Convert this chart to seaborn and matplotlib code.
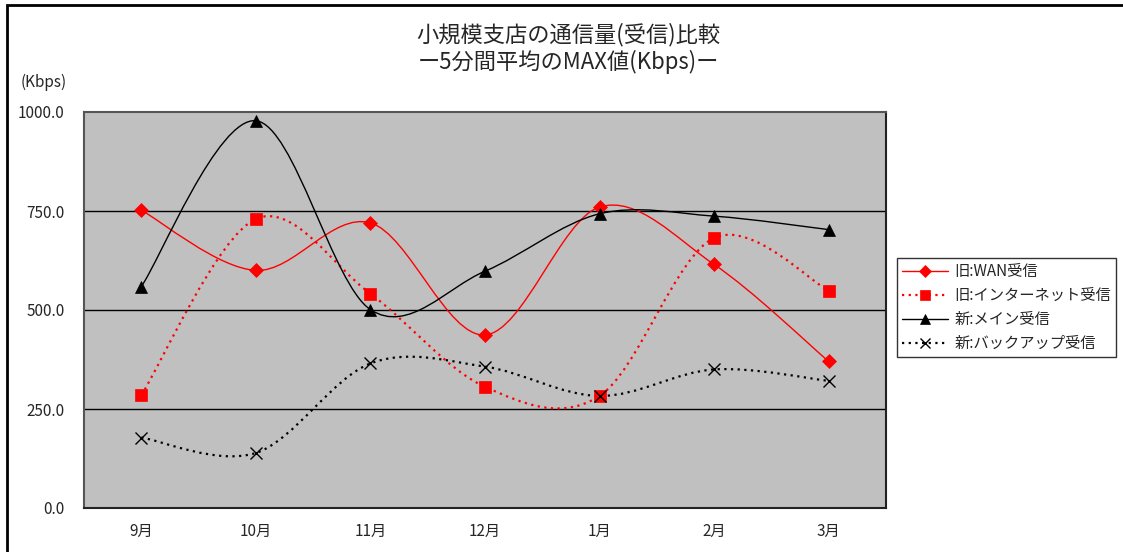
import numpy as np
import pandas as pd
import matplotlib
matplotlib.use("Agg")
import matplotlib.pyplot as plt
import seaborn as sns
from matplotlib.path import Path
from matplotlib.patches import PathPatch, Rectangle
from matplotlib.lines import Line2D

# ---- data (Kbps, 5-minute average MAX) ----
months = ["9月", "10月", "11月", "12月", "1月", "2月", "3月"]
old_wan = [752, 600, 720, 437, 760, 615, 370]
old_internet = [285, 730, 541, 306, 283, 682, 549]
new_main = [559, 978, 501, 598, 743, 737, 703]
new_backup = [178, 139, 365, 357, 283, 350, 321]

series_names = ["旧:WAN受信", "旧:インターネット受信", "新:メイン受信", "新:バックアップ受信"]
series_values = [old_wan, old_internet, new_main, new_backup]

styles = {
    "旧:WAN受信": dict(color="#FF0000", ls="-", lw=1.0, marker="D", ms=7, mew=0.5),
    "旧:インターネット受信": dict(color="#FF0000", ls=(0, (1, 2)), lw=1.6, marker="s", ms=8, mew=0.5),
    "新:メイン受信": dict(color="#000000", ls="-", lw=1.0, marker="^", ms=9, mew=0.5),
    "新:バックアップ受信": dict(color="#000000", ls=(0, (1, 2)), lw=1.6, marker="x", ms=9, mew=1.0),
}

sns.set_style("white")
plt.rcParams["font.family"] = ["Noto Sans CJK JP", "DejaVu Sans"]

W, H = 1123, 552
fig = plt.figure(figsize=(W / 100, H / 100), dpi=100)
fig.patch.set_facecolor("white")

# outer chart-area border (top and left edges visible)
fig.add_artist(Rectangle((7 / W, -0.1), 1.2, 1.1 - 5 / H, transform=fig.transFigure,
                         fill=False, edgecolor="black", lw=2.0))

left, right, top, bottom = 84, 886, 112, 508
ax = fig.add_axes([left / W, 1 - bottom / H, (right - left) / W, (bottom - top) / H])
ax.set_facecolor("#C0C0C0")

x = np.arange(len(months))
ax.set_xlim(-0.5, len(months) - 0.5)
ax.set_ylim(0, 1000)


def smooth_path(xs, ys):
    # cubic Bezier segments through the points (Catmull-Rom style tangents)
    pts = np.column_stack([xs, ys]).astype(float)
    n = len(pts)
    verts = [pts[0]]
    codes = [Path.MOVETO]
    for i in range(n - 1):
        p0 = pts[i - 1] if i > 0 else pts[i]
        p1 = pts[i]
        p2 = pts[i + 1]
        p3 = pts[i + 2] if i + 2 < n else pts[i + 1]
        c1 = p1 + (p2 - p0) / 6.0
        c2 = p2 - (p3 - p1) / 6.0
        verts += [c1, c2, p2]
        codes += [Path.CURVE4] * 3
    return Path(verts, codes)


df = pd.DataFrame({"month": np.tile(x, len(series_names)),
                   "value": np.concatenate(series_values),
                   "series": np.repeat(series_names, len(months))})

handles = []
for name, vals in zip(series_names, series_values):
    st = styles[name]
    patch = PathPatch(smooth_path(x, vals), facecolor="none", edgecolor=st["color"],
                      lw=st["lw"], linestyle=st["ls"], zorder=3)
    ax.add_patch(patch)
    sub = df[df["series"] == name]
    sns.lineplot(data=sub, x="month", y="value", ax=ax, linestyle="", marker=st["marker"],
                 markersize=st["ms"], color=st["color"], markeredgecolor=st["color"],
                 markeredgewidth=st["mew"], zorder=4, legend=False)
    handles.append(Line2D([], [], color=st["color"], ls=st["ls"], lw=st["lw"],
                          marker=st["marker"], ms=st["ms"] * 0.85, mew=st["mew"],
                          markeredgecolor=st["color"]))

# grid lines
for v in (250, 500, 750):
    ax.axhline(v, color="black", lw=1.0, zorder=2)

ax.set_yticks([0, 250, 500, 750, 1000])
ax.set_yticklabels([f"{v:.1f}" for v in [0, 250, 500, 750, 1000]], fontsize=11)
ax.set_xticks(x)
ax.set_xticklabels(months, fontsize=11)
ax.set_xticks(np.arange(-0.5, len(months) + 0.5, 1), minor=True)
ax.tick_params(axis="x", which="major", length=0, pad=11)
ax.tick_params(axis="x", which="minor", length=4, width=1, color="#333333", direction="out")
ax.tick_params(axis="y", length=3, width=1, color="#333333", direction="out", pad=11)
ax.set_xlabel("")
ax.set_ylabel("")
for side in ("left", "top"):
    ax.spines[side].set_color("#555555")
    ax.spines[side].set_linewidth(1.5)
for side in ("right", "bottom"):
    ax.spines[side].set_color("#222222")
    ax.spines[side].set_linewidth(1.5)
for s in ax.spines.values():
    s.set_visible(True)

fig.text(568 / W, 1 - 35 / H, "小規模支店の通信量(受信)比較", ha="center", va="center", fontsize=16)
fig.text(568 / W, 1 - 62 / H, "ー5分間平均のMAX値(Kbps)ー", ha="center", va="center", fontsize=16)
fig.text(44 / W, 1 - 82 / H, "(Kbps)", ha="center", va="center", fontsize=11)

leg = fig.legend(handles, series_names, loc="upper left",
                 bbox_to_anchor=(897 / W, 1 - 258 / H), fontsize=11,
                 frameon=True, fancybox=False, handlelength=3.0, handletextpad=0.4,
                 labelspacing=0.45, borderpad=0.35, borderaxespad=0)
leg.get_frame().set_edgecolor("black")
leg.get_frame().set_linewidth(1.0)

fig.savefig("out.png", dpi=100, facecolor="white")
